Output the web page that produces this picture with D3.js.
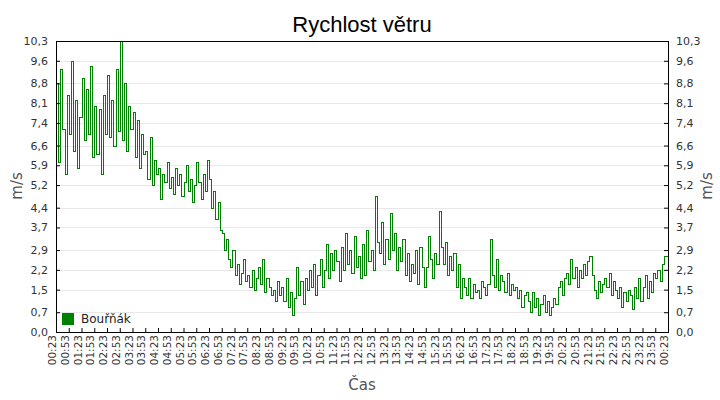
<!DOCTYPE html><html><head><meta charset="utf-8">
<script src="https://cdn.jsdelivr.net/npm/d3@7"></script>
<style>body{margin:0;background:#fff}svg{font-family:"DejaVu Sans",sans-serif}</style></head><body>
<svg id="c" width="720" height="400"></svg>
<script>
const seriesName = "Bouřňák";
const yTicks = [0,0.7,1.5,2.2,2.9,3.7,4.4,5.2,5.9,6.6,7.4,8.1,8.8,9.6,10.3];
const timeLabels = ["00:23","00:53","01:23","01:53","02:23","02:53","03:23","03:53","04:23","04:53","05:23","05:53","06:23","06:53","07:23","07:53","08:23","08:53","09:23","09:53","10:23","10:53","11:23","11:53","12:23","12:53","13:23","13:53","14:23","14:53","15:23","15:53","16:23","16:53","17:23","17:53","18:23","18:53","19:23","19:53","20:23","20:53","21:23","21:53","22:23","22:53","23:23","23:53","00:23"];
const speeds = [
8.8,6.0,9.3,7.2,5.6,8.4, 7.0,9.6,6.4,8.2,5.8,7.6, 9.0,6.8,8.6,7.0,9.4,6.2, 8.0,6.3,7.9,5.6,8.4,7.0,
9.1,6.9,8.2,6.6,9.3,7.1, 10.3,6.8,8.8,6.4,8.0,7.2, 7.8,6.2,7.5,5.8,7.0,6.3, 6.4,5.4,6.9,5.2,6.1,5.6,
5.8,4.7,5.6,5.3,6.0,5.1, 5.5,4.9,5.8,5.2,5.6,4.8, 5.3,5.9,5.0,5.4,4.6,5.2, 6.0,5.3,4.7,5.6,5.0,6.1,
5.4,4.4,5.0,4.0,4.6,3.6, 3.5,2.9,3.3,2.6,2.3,2.9, 2.0,2.4,1.7,2.1,2.6,1.8, 2.0,1.6,2.2,1.5,1.9,2.3,
1.7,2.6,1.4,1.9,1.6,1.3, 1.5,1.1,1.8,1.3,1.6,1.1, 1.9,0.9,1.4,0.6,1.2,2.3, 1.3,1.8,1.0,1.9,1.5,2.2,
1.6,2.4,1.3,2.0,2.6,1.6, 2.2,3.1,1.9,2.8,2.2,2.9, 2.5,1.8,3.0,2.2,3.5,2.4, 2.9,2.1,3.4,2.3,2.7,1.9,
3.1,2.0,3.6,2.5,2.9,2.2, 4.8,3.2,2.8,3.9,2.4,3.3, 2.6,4.2,2.9,3.5,2.2,3.0, 2.5,3.3,2.0,2.8,1.8,2.4,
2.1,2.9,1.7,3.0,2.3,1.6, 2.3,3.4,2.6,1.9,2.8,2.4, 4.3,3.0,2.4,3.2,2.0,2.7, 2.2,2.8,1.6,2.4,1.2,1.9,
1.6,1.3,1.9,1.2,1.7,1.4, 1.5,1.2,1.8,1.6,1.3,1.7, 3.3,2.0,1.6,2.6,1.5,2.0, 1.8,1.4,2.1,1.3,1.7,1.5,
1.6,1.2,1.5,0.9,1.3,1.4, 1.1,0.7,1.4,0.9,1.2,0.6, 1.0,1.3,0.7,1.1,0.6,0.9, 1.2,1.0,1.6,1.8,1.3,1.9,
2.1,1.7,2.6,1.9,2.3,1.6, 2.2,1.9,2.4,2.0,2.5,2.7, 2.0,1.5,1.2,1.8,1.4,1.7, 1.9,1.6,2.1,1.3,1.8,1.5,
1.2,1.6,0.9,1.4,1.1,1.5, 1.3,0.8,1.6,1.2,1.9,1.1, 1.6,2.0,1.2,1.8,1.4,2.1, 1.9,2.2,1.8,2.4,2.7,2.7];

const L=56,R=668,T=41,B=332;
const svg=d3.select("#c");
const x=d3.scaleLinear().domain([0,1440]).range([L,R]);
const y=d3.scaleLinear().domain([0,10.3]).range([B,T]);
const tickMin=timeLabels.map((d,i)=>i*30);
svg.append("g").selectAll("line").data(yTicks.slice(1)).join("line")
 .attr("x1",L).attr("x2",R).attr("y1",d=>Math.round(y(d))+0.5).attr("y2",d=>Math.round(y(d))+0.5).attr("stroke","#e8e8e8");
const pts=speeds.map((v,i)=>[i*5,v]);
pts.push([1440,speeds[speeds.length-1]]);
svg.append("path").datum(pts).attr("fill","none").attr("stroke","#008000").attr("stroke-width",1.2)
 .attr("shape-rendering","crispEdges")
 .attr("d",d3.line().x(d=>Math.round(x(d[0]))+0.5).y(d=>Math.round(y(d[1]))+0.5).curve(d3.curveStepAfter));
svg.append("rect").attr("x",L+0.5).attr("y",T+0.5).attr("width",R-L).attr("height",B-T).attr("fill","none").attr("stroke","#000");
const fmt=d=>d.toFixed(1).replace(".",",");
const yl=svg.append("g").attr("transform",`translate(${L},0)`).call(d3.axisLeft(y).tickValues(yTicks).tickFormat(fmt).tickSize(-4).tickPadding(8));
const yr=svg.append("g").attr("transform",`translate(${R},0)`).call(d3.axisRight(y).tickValues(yTicks).tickFormat(fmt).tickSize(-4).tickPadding(8));
const xa=svg.append("g").attr("transform",`translate(0,${B})`).call(d3.axisBottom(x).tickValues(tickMin).tickFormat((d,i)=>timeLabels[i]).tickSize(-4));
[yl,yr,xa].forEach(g=>{g.select(".domain").remove();g.selectAll("text").attr("font-size",11).attr("fill","#333").attr("font-family","DejaVu Sans");g.selectAll("line").attr("stroke","#000");});
xa.selectAll("text").attr("transform","rotate(-90)").attr("text-anchor","end").attr("x",-3).attr("y",-4).attr("dy","0.35em").attr("font-size",10.5);
svg.append("text").attr("x",362).attr("y",32).attr("text-anchor","middle").attr("font-size",22).attr("font-family","Liberation Sans, Arial").text("Rychlost větru");
svg.append("text").attr("x",362).attr("y",390).attr("text-anchor","middle").attr("font-size",15).attr("fill","#555").text("Čas");
svg.append("text").attr("transform","translate(22,186) rotate(-90)").attr("text-anchor","middle").attr("font-size",15).attr("fill","#555").text("m/s");
svg.append("text").attr("transform","translate(712,186) rotate(-90)").attr("text-anchor","middle").attr("font-size",15).attr("fill","#555").text("m/s");
svg.append("rect").attr("x",62).attr("y",313).attr("width",12).attr("height",12).attr("fill","#008000");
svg.append("text").attr("x",81).attr("y",323).attr("font-size",12).attr("fill","#222").text(seriesName);
</script></body></html>
